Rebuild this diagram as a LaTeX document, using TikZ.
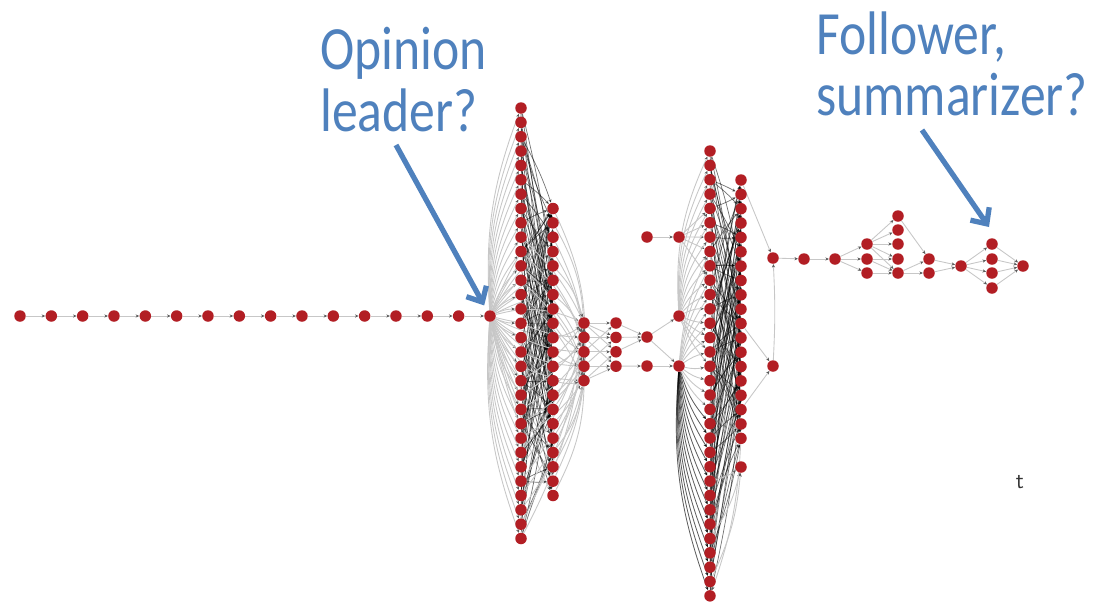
\documentclass[tikz,border=0pt]{standalone}
\usepackage{fontspec}
\setmainfont{Carlito}
\newfontfamily\notefont[FakeStretch=0.84]{Carlito}
\usetikzlibrary{arrows.meta,backgrounds}
\definecolor{nodered}{RGB}{178,30,36}
\definecolor{noteblue}{RGB}{79,129,189}
\tikzset{
  dot/.style={circle, fill=nodered, inner sep=0pt, minimum size=0.23cm},
  link/.style={black!22, line width=0.5pt, -{Stealth[length=2pt,width=1.8pt,color=black!65]}},
  dense/.style={black, opacity=0.55, line width=0.4pt, -{Stealth[length=2pt,width=1.8pt]}},
  note/.style={text=noteblue, font=\notefont\fontsize{35}{35}\selectfont, align=left, inner sep=0pt},
  pointer/.style={noteblue, line width=3pt, -{Straight Barb[length=7pt,width=13pt]}}
}

\begin{document}
\begin{tikzpicture}[x=0.02cm, y=-0.02cm]
  \useasboundingbox (0,0) rectangle (1110,603);

  % chain up to the leader
  \foreach \i in {1,...,15}
    \node[dot] (p\i) at ({20+(\i-1)*31.33},316) {};
  \node[dot] (lead) at (490,316) {};

  % first burst
  \foreach \i in {1,...,31}
    \node[dot] (a\i) at (521,{108+(\i-1)*14.35}) {};
  \foreach \i in {1,...,21}
    \node[dot] (b\i) at (553,{208.5+(\i-1)*14.35}) {};
  \foreach \i in {1,...,5}
    \node[dot] (c\i) at (584,{323+(\i-1)*14.4}) {};
  \foreach \i in {1,...,4}
    \node[dot] (d\i) at (616,{323+(\i-1)*14.4}) {};
  \node[dot] (e1) at (647,337) {};
  \node[dot] (e2) at (647,366) {};
  \node[dot] (g1) at (647,237) {};
  \node[dot] (g2) at (679,237) {};
  \node[dot] (h1) at (679,316) {};
  \node[dot] (h2) at (679,366) {};

  % second burst
  \foreach \i in {1,...,32}
    \node[dot] (k\i) at (710,{151+(\i-1)*14.35}) {};
  \foreach \i in {1,...,19}
    \node[dot] (l\i) at (741,{180+(\i-1)*14.35}) {};
  \node[dot] (l20) at (741,467) {};
  \node[dot] (m1) at (773,258) {};
  \node[dot] (m2) at (773,366) {};

  % tail
  \node[dot] (r1) at (804,259) {};
  \node[dot] (r2) at (835,259) {};
  \foreach \i/\y in {1/244,2/259,3/273}
    \node[dot] (s\i) at (867,\y) {};
  \foreach \i/\y in {1/216,2/230,3/244,4/259,5/273}
    \node[dot] (t\i) at (898,\y) {};
  \node[dot] (u1) at (929,259) {};
  \node[dot] (u2) at (929,273) {};
  \node[dot] (v) at (961,266) {};
  \foreach \i/\y in {1/244,2/259,3/273,4/288}
    \node[dot] (w\i) at (992,\y) {};
  \node[dot] (z) at (1023,266) {};

  \begin{scope}[on background layer]
    \foreach \i [count=\n from 2] in {1,...,14}
      \draw[link] (p\i) -- (p\n);
    \draw[link] (p15) -- (lead);
    % leader fan
    \foreach \i in {1,...,31} {
      \pgfmathsetmacro{\bn}{\i<16 ? 12 : -12}
      \draw[link] (lead) to[bend left=\bn] (a\i);
    }
    \foreach \i in {1,...,21} {
      \pgfmathsetmacro{\bn}{\i<9 ? 8 : -8}
      \draw[link] (lead) to[bend left=\bn] (b\i);
    }
    \foreach \i in {1,...,31} {
      \pgfmathtruncatemacro{\j}{mod(\i*7,21)+1}
      \pgfmathtruncatemacro{\k}{mod(\i*13+4,21)+1}
      \pgfmathtruncatemacro{\q}{mod(\i*5+9,21)+1}
      \draw[dense] (a\i) to[bend left=5] (b\j);
      \draw[dense] (a\i) to[bend right=5] (b\k);
      \draw[dense] (a\i) to[bend left=3] (b\q);
    }
    \foreach \i in {10,...,31} {
      \pgfmathtruncatemacro{\j}{mod(\i,5)+1}
      \pgfmathsetmacro{\bn}{\i<16 ? 10 : -10}
      \draw[link] (a\i) to[bend left=\bn] (c\j);
    }
    \foreach \i in {1,...,21} {
      \pgfmathtruncatemacro{\j}{mod(\i*3,5)+1}
      \pgfmathsetmacro{\bn}{\i<9 ? 14 : -14}
      \draw[link] (b\i) to[bend left=\bn] (c\j);
    }
    \foreach \s/\t in {1/1,1/2,1/3,2/2,2/4,3/1,3/3,4/4,4/2,5/3,5/4}
      \draw[link] (c\s) -- (d\t);
    \foreach \s in {1,2,3}
      \draw[link] (d\s) -- (e1);
    \draw[link] (d4) -- (e2);
    \draw[link] (e1) -- (h1);
    \draw[link] (e1) -- (h2);
    \draw[link] (e2) -- (h2);
    \draw[link] (g1) -- (g2);
    \foreach \t in {5,6,7,8,10}
      \draw[link] (g2) -- (k\t);
    % second fan
    \foreach \i in {1,...,16} {
      \pgfmathsetmacro{\bn}{\i<13 ? 14 : -8}
      \draw[link] (h1) to[bend left=\bn] (k\i);
    }
    \foreach \i in {8,...,32} {
      \pgfmathsetmacro{\bn}{\i<16 ? 10 : -12}
      \draw[link] (h2) to[bend left=\bn] (k\i);
    }
    \foreach \i in {20,...,32}
      \draw[dense] (h2) to[bend right=12] (k\i);
    \foreach \i in {1,...,32} {
      \pgfmathtruncatemacro{\j}{mod(\i*7,19)+1}
      \pgfmathtruncatemacro{\k}{mod(\i*11+3,19)+1}
      \pgfmathtruncatemacro{\q}{mod(\i*4+8,19)+1}
      \draw[dense] (k\i) to[bend left=5] (l\j);
      \draw[dense] (k\i) to[bend right=5] (l\k);
      \draw[dense] (k\i) to[bend left=3] (l\q);
    }
    \foreach \i in {24,28,31}
      \draw[link] (k\i) to[bend right=10] (l20);
    \draw[link] (l19) to[bend left=8] (k32);
    \draw[link] (l1) -- (m1);
    \draw[link] (l11) -- (m2);
    \draw[link] (l17) -- (m2);
    \draw[link] (m2) to[bend right=3] (m1);
    % tail links
    \draw[link] (m1) -- (r1);
    \draw[link] (r1) -- (r2);
    \foreach \t in {1,2,3}
      \draw[link] (r2) -- (s\t);
    \foreach \t in {1,...,5}
      \draw[link] (s1) -- (t\t);
    \draw[link] (s2) -- (t4);
    \draw[link] (s2) -- (t5);
    \draw[link] (s3) -- (t5);
    \draw[link] (t1) -- (u1);
    \draw[link] (t5) -- (u1);
    \draw[link] (t5) -- (u2);
    \draw[link] (u1) -- (v);
    \draw[link] (u2) -- (v);
    \foreach \t in {1,...,4} {
      \draw[link] (v) -- (w\t);
      \draw[link] (w\t) -- (z);
    }
  \end{scope}

  % notes
  \node[note, anchor=north west] (leadnote) at (320,27) {Opinion\\leader?};
  \node[note, anchor=north west] (follownote) at (816,11) {Follower,\\summarizer?};
  \coordinate (leadtail) at (396,145);
  \draw[pointer, shorten >=0.12cm] (leadtail) -- (lead);
  \coordinate (followtail) at (922,130);
  \coordinate (followtip) at (989,227);
  \draw[pointer] (followtail) -- (followtip);
  \node[font=\sffamily\fontsize{13}{13}\selectfont, text=black!80] (stray) at (1020,482) {t};
\end{tikzpicture}
\end{document}
